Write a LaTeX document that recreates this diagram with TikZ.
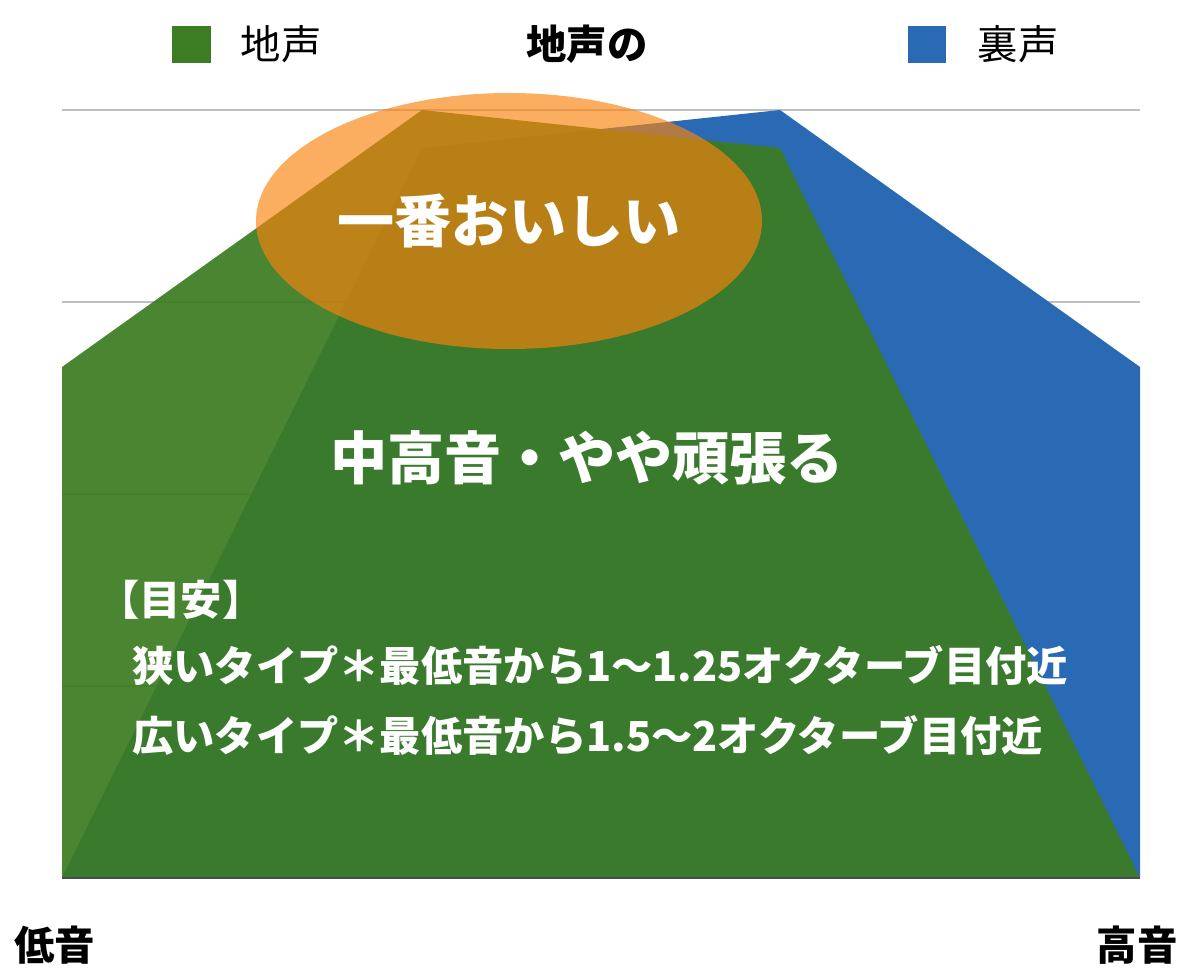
\documentclass[tikz,border=0pt]{standalone}
\usepackage{fontspec}
\setmainfont{Noto Sans CJK JP}
\usetikzlibrary{positioning}
\definecolor{jigoe}{RGB}{60,124,34}
\definecolor{uragoe}{RGB}{42,106,181}
\definecolor{oishii}{RGB}{251,131,11}
\begin{document}
\begin{tikzpicture}[x=0.02cm,y=-0.02cm,
    lbl/.style={font=\fontsize{23}{23}\selectfont},
    bot/.style={font=\bfseries\fontsize{23}{23}\selectfont},
    big/.style={font=\bfseries\fontsize{32.5}{33}\selectfont,text=white},
    note/.style={font=\bfseries\fontsize{23.5}{24}\selectfont,text=white,anchor=west}]
    \useasboundingbox (0,0) rectangle (1194,974);
    \foreach \y in {110,302,494,686} \draw[gray!50,line width=.6pt] (62,\y) -- (1140,\y);
    \fill[uragoe] (62,878) -- (422,148) -- (780,110) -- (1140,367) -- (1140,878) -- cycle;
    \fill[jigoe,fill opacity=.93] (62,367) -- (422,110) -- (780,148) -- (1140,878) -- (62,878) -- cycle;
    \draw[black!70,line width=.6pt] (62,878) -- (1140,878);
    \fill[oishii,fill opacity=.65] (509,221) ellipse [x radius=253, y radius=128];
    % legend
    \fill[jigoe] (172,26) rectangle (211,63);
    \node[lbl] (lg) at (281,44) {地声};
    \node[bot] (tt) at (587,44) {地声の};
    \fill[uragoe] (908,26) rectangle (946,63);
    \node[lbl] (lu) at (1018,44) {裏声};
    % labels
    \node[big] (top) at (509,221) {一番おいしい};
    \node[big] (mid) at (587,458) {中高音・やや頑張る};
    \node[note] (mey) at (92,600) {【目安】};
    \node[note] (n1) at (126,665) {狭いタイプ＊最低音から1〜1.25オクターブ目付近};
    \node[note] (n2) at (126,735) {広いタイプ＊最低音から1.5〜2オクターブ目付近};
    \node[bot] (lo) at (55,945) {低音};
    \node[bot] (hi) at (1137,945) {高音};
\end{tikzpicture}
\end{document}
